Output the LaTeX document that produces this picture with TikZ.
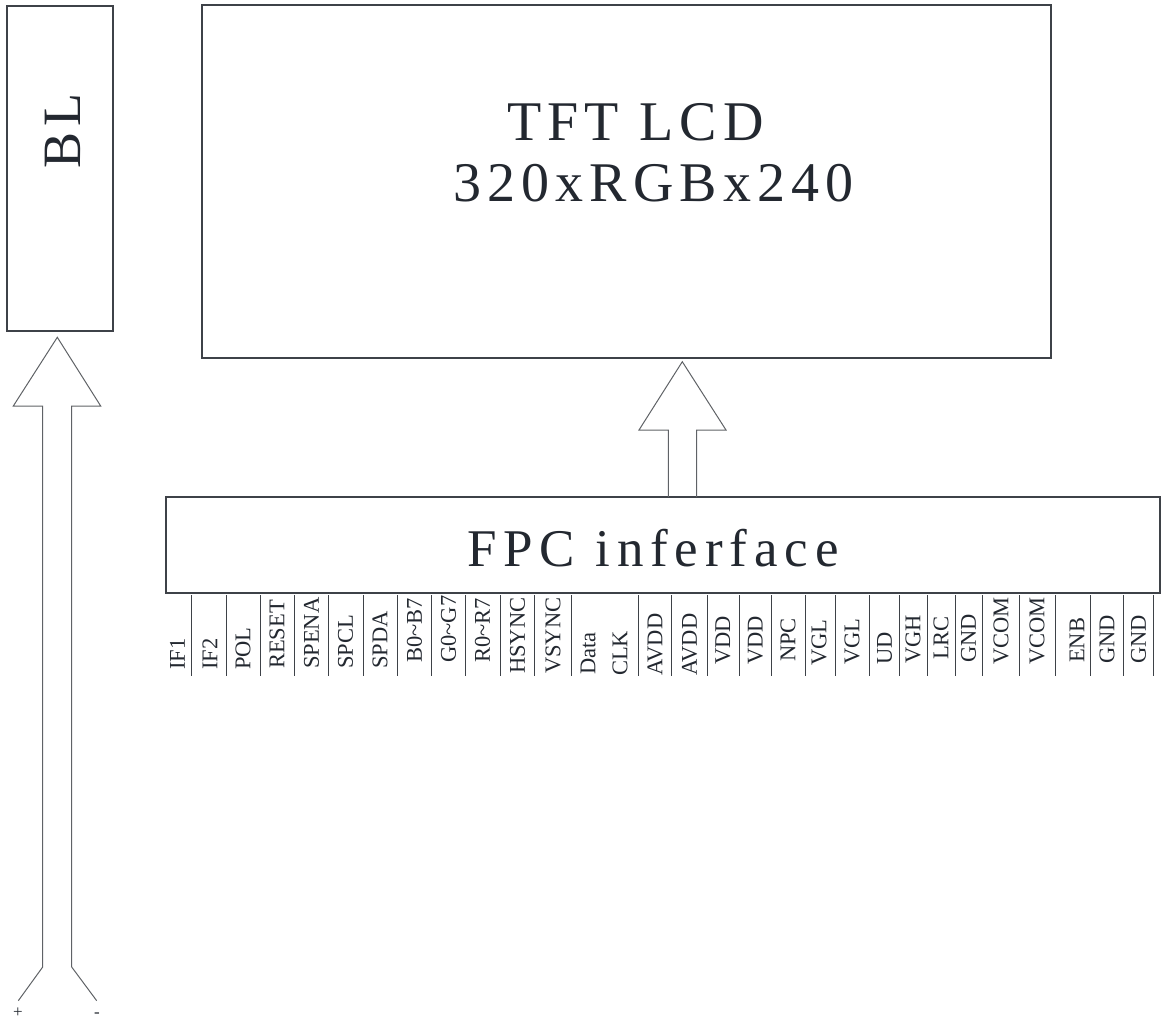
\documentclass[tikz,border=0pt]{standalone}
\usepackage{fontspec}
\setmainfont{Liberation Serif}
\newfontfamily\bigfont[LetterSpace=11]{Liberation Serif}
\newfontfamily\fpcfont[LetterSpace=13]{Liberation Serif}
\definecolor{txt}{RGB}{35,40,48}
\definecolor{boxline}{RGB}{62,66,72}
\definecolor{arrline}{RGB}{95,98,102}
\begin{document}
\begin{tikzpicture}[x=1pt,y=-1pt,
  blk/.style={draw=boxline,line width=1.4pt,inner sep=0pt,outer sep=0pt,anchor=north west},
  pinlbl/.style={text=txt,inner sep=0pt,rotate=90,anchor=west,font=\fontsize{22.5}{24}\selectfont},
  divider/.style={draw=boxline,line width=1pt},
  blockarrow/.style={draw=arrline,line width=1pt,line join=miter}]
\useasboundingbox (0,0) rectangle (1165,1021);
% boxes
\node[blk,minimum width=106pt,minimum height=325pt] (bl) at (7,6) {};
\node[blk,minimum width=849pt,minimum height=353pt] (tft) at (202,5) {};
\node[blk,minimum width=994pt,minimum height=96pt] (fpc) at (166,497) {};
% texts
\node[text=txt,rotate=90,inner sep=0pt,font=\bigfont\fontsize{54}{58}\selectfont] (bltext) at (63,131) {BL};
\node[text=txt,inner sep=0pt,anchor=base west,font=\bigfont\fontsize{56}{60}\selectfont] (tft1) at (507,140) {TFT LCD};
\node[text=txt,inner sep=0pt,anchor=base west,font=\bigfont\fontsize{56}{60}\selectfont] (tft2) at (453,201.7) {320xRGBx240};
\node[text=txt,inner sep=0pt,anchor=base west,font=\fpcfont\fontsize{53}{58}\selectfont] (fpctext) at (467,566.7) {FPC inferface};
% FPC -> TFT arrow
\coordinate (fa1) at (668.3,497);
\coordinate (fa2) at (696.7,497);
\coordinate (fatip) at (682.3,361.7);
\draw[blockarrow] (fa1) -- (668.3,430) -- (639,430) -- (fatip) -- (726,430) -- (696.7,430) -- (fa2);
% BL arrow
\coordinate (ba1) at (42.7,967);
\coordinate (ba2) at (71.7,967);
\coordinate (batip) at (57.3,337.3);
\coordinate (plusend) at (18.3,1000.7);
\coordinate (minusend) at (96.7,1000.7);
\draw[blockarrow] (ba1) -- (42.7,406) -- (13.3,406) -- (batip) -- (100.7,406) -- (71.7,406) -- (ba2);
\draw[blockarrow] (ba1) -- (plusend);
\draw[blockarrow] (ba2) -- (minusend);
\node[text=txt,inner sep=0pt,font=\fontsize{17}{18}\selectfont] (plus) at (18,1013) {+};
\node[text=txt,inner sep=0pt,font=\fontsize{17}{18}\selectfont] (minus) at (97,1015) {-};
% pin dividers
\foreach \x in {191.7,226,260,294.3,328.3,363,397.7,431.7,465,500,534.3,571.7,638.3,671.7,707.3,739.3,771.7,805,835,869.3,899,927.3,955,982.3,1019.3,1055,1090,1123.3,1153.3}
  \draw[divider] (\x,595) -- (\x,676);
% pin labels
\foreach \x/\t/\b [count=\i] in {
  177.5/IF1/670, 210/IF2/670, 243/POL/670, 277/RESET/669, 311.5/SPENA/669,
  345.5/SPCL/669, 380/SPDA/669, 414.5/B0\textasciitilde B7/663, 448.5/G0\textasciitilde G7/663, 482.5/R0\textasciitilde R7/663,
  517.5/HSYNC/674, 553/VSYNC/674, 588/Data/675, 620/CLK/676, 655/AVDD/676,
  689.5/AVDD/676, 723/VDD/665, 755.5/VDD/665, 788/NPC/662, 819/VGL/666,
  852/VGL/665, 884.5/UD/665, 913/VGH/664, 941/LRC/660, 968.5/GND/663,
  1001/VCOM/665, 1037/VCOM/665, 1077/ENB/663, 1107/GND/664, 1138.5/GND/664}
  \node[pinlbl] (p\i) at (\x,\b) {\t};
\end{tikzpicture}
\end{document}
